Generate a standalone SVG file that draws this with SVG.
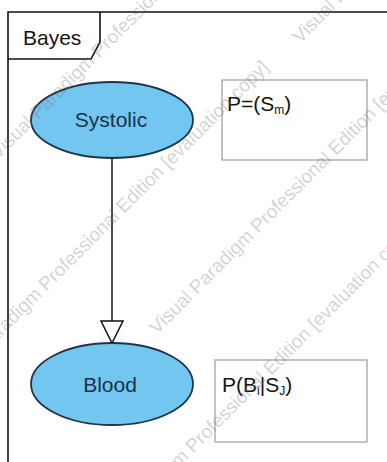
<svg xmlns="http://www.w3.org/2000/svg" width="387" height="462" viewBox="0 0 387 462">
  <style>
    .frame { fill: none; stroke: #111; stroke-width: 1.6; }
    .node { fill: #72c6f0; stroke: #1e3548; stroke-width: 1.8; }
    .node-label { font-family: "Liberation Sans", Arial, sans-serif; font-size: 21px; fill: #1b3247; text-anchor: middle; }
    .note { fill: #fff; stroke: #a3a3a3; stroke-width: 1.3; }
    .note-text { font-family: "Liberation Sans", Arial, sans-serif; font-size: 21px; fill: #141414; }
    .sub { font-size: 12px; }
    .edge { fill: none; stroke: #111; stroke-width: 1.5; }
    .head { fill: #fff; stroke: #111; stroke-width: 1.5; stroke-linejoin: miter; }
    .wm { font-family: "Liberation Sans", Arial, sans-serif; font-size: 19px; fill: #7a7570; fill-opacity: 0.32; }
  </style>

  <rect width="387" height="462" fill="#fff"/>

  <!-- diagram frame with its name tab -->
  <g id="frame">
    <path class="frame" d="M8,470 L8,12 L395,12"/>
    <path class="frame" d="M100,12 L100,42 L91,59 L8,59"/>
    <text x="23" y="45" font-family="Liberation Sans, Arial, sans-serif" font-size="21" fill="#141414">Bayes</text>
  </g>

  <!-- connectors -->
  <g id="connectors">
    <line class="edge" x1="112" y1="158" x2="112" y2="321"/>
    <path class="head" d="M101,321 L123,321 L112,343 Z"/>
  </g>

  <g id="systolic">
    <ellipse class="node" cx="112" cy="120" rx="81" ry="38"/>
    <text class="node-label" x="111" y="127">Systolic</text>
  </g>

  <g id="blood">
    <ellipse class="node" cx="112" cy="384" rx="81" ry="41"/>
    <text class="node-label" x="110" y="392">Blood</text>
  </g>

  <g id="systolic-prob">
    <rect class="note" x="222" y="80" width="145" height="80"/>
    <text class="note-text" x="227" y="111">P=(S<tspan class="sub" dy="3">m</tspan><tspan dy="-3">)</tspan></text>
  </g>

  <g id="blood-prob">
    <rect class="note" x="215" y="360" width="152" height="82"/>
    <text class="note-text" x="222" y="392">P(B<tspan class="sub" dy="3">i</tspan><tspan dy="-3">|S</tspan><tspan class="sub" dy="3">J</tspan><tspan dy="-3">)</tspan></text>
  </g>

  <!-- evaluation watermark -->
  <g id="watermark" class="wm">
    <text transform="translate(-2,160) rotate(-45)">Visual Paradigm Professional Edition [evaluation copy]</text>
    <text transform="translate(-55,393) rotate(-45)">Visual Paradigm Professional Edition [evaluation copy]</text>
    <text transform="translate(300,44) rotate(-45)">Visual Paradigm Professional Edition [evaluation copy]</text>
    <text transform="translate(157,335) rotate(-45)">Visual Paradigm Professional Edition [evaluation copy]</text>
    <text transform="translate(92,555) rotate(-45)">Visual Paradigm Professional Edition [evaluation copy]</text>
  </g>
</svg>
